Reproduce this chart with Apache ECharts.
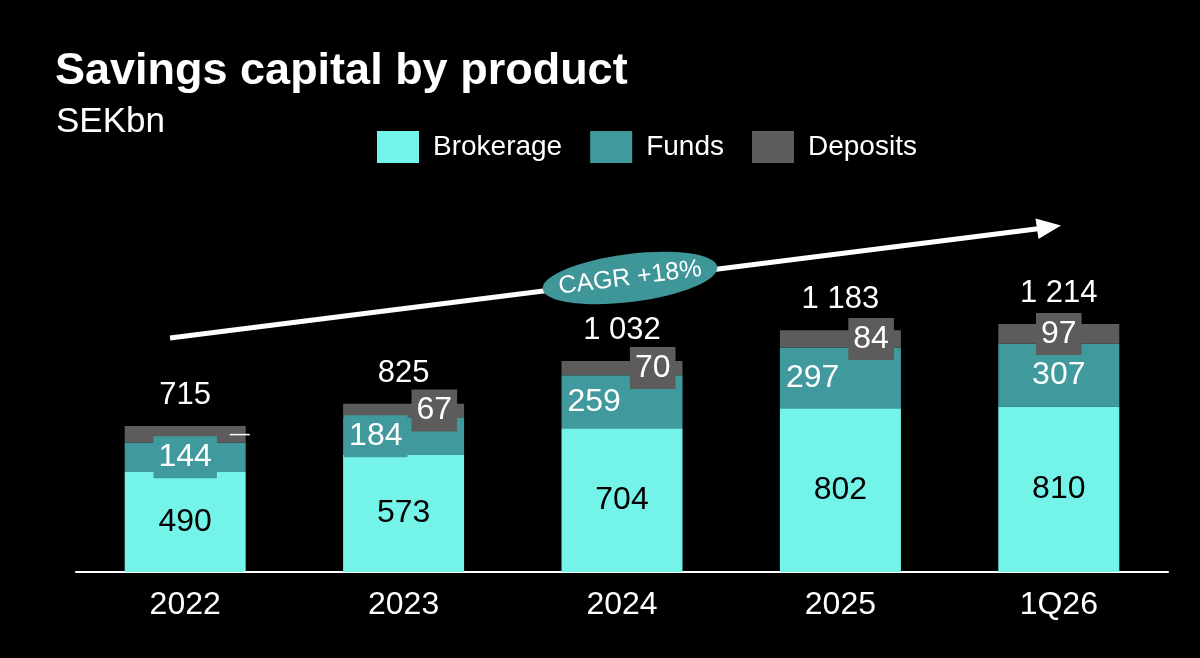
<!DOCTYPE html>
<html lang="en">
<head>
<meta charset="UTF-8">
<title>Savings capital by product</title>
<script src="https://cdn.jsdelivr.net/npm/echarts@6/dist/echarts.min.js"></script>
<style>
  html, body { margin: 0; padding: 0; background: #000; }
  #main { width: 1200px; height: 658px; }
</style>
</head>
<body>
<div id="main"></div>
<script>
// data (SEKbn)
var years = ['2022', '2023', '2024', '2025', '1Q26'];
var brokerage = [490, 573, 704, 802, 810];
var funds = [144, 184, 259, 297, 307];
var deposits = [81, 67, 70, 84, 97];
var totals = [715, 825, 1032, 1183, 1214];

// where each label sits in its segment
var fundsLabelPos = ['inside', 'insideLeft', 'insideLeft', 'insideLeft', 'inside'];
var depositsLabelPos = ['insideRight', 'insideRight', 'insideRight', 'insideRight', 'inside'];

var FONT = "'Liberation Sans', Arial, sans-serif";
var C_BROK = '#74f4e9', C_FUND = '#409a9d', C_DEP = '#5c5c5c';

function fmt(n) {
    return String(n).replace(/\B(?=(\d{3})+(?!\d))/g, ' ');
}

var myChart = echarts.init(document.getElementById('main'));

var fundsData = funds.map(function (v, i) {
    return {
        value: v,
        label: { position: fundsLabelPos[i], distance: 1 }
    };
});
var depositsData = deposits.map(function (v, i) {
    if (i === 0) {
        // 2022 shown only as a dash next to the bar
        return {
            value: v,
            label: { position: 'insideRight', offset: [14, 0], backgroundColor: 'transparent', formatter: '\u2014', fontSize: 20 }
        };
    }
    return {
        value: v,
        label: { position: depositsLabelPos[i], distance: 7 }
    };
});

var option = {
    backgroundColor: '#000',
    textStyle: { fontFamily: FONT },
    title: [
        { text: 'Savings capital by product', left: 50, top: 44,
          textStyle: { color: '#fff', fontSize: 45, fontWeight: 'bold', fontFamily: FONT } },
        { text: 'SEKbn', left: 51, top: 100,
          textStyle: { color: '#fff', fontSize: 35, fontWeight: 'normal', fontFamily: FONT } }
    ],
    legend: {
        data: ['Brokerage', 'Funds', 'Deposits'],
        left: 377,
        top: 131,
        padding: 0,
        itemWidth: 42,
        itemHeight: 32,
        itemGap: 28,
        icon: 'rect',
        textStyle: { color: '#fff', fontSize: 28, fontFamily: FONT, padding: [0, 0, 0, 9] }
    },
    grid: { left: 76, right: 32, top: 286, bottom: 86 },
    xAxis: {
        type: 'category',
        data: years,
        axisLine: { lineStyle: { color: '#fff', width: 2 } },
        axisTick: { show: false },
        axisLabel: { color: '#fff', fontSize: 32, margin: 17, fontFamily: FONT }
    },
    yAxis: {
        type: 'value',
        min: 0,
        max: 1400,
        show: false,
        splitLine: { show: false }
    },
    series: [
        {
            name: 'Brokerage',
            type: 'bar',
            stack: 'total',
            barWidth: 121,
            data: brokerage,
            itemStyle: { color: C_BROK },
            label: { show: true, position: 'inside', color: '#000', fontSize: 32, fontFamily: FONT }
        },
        {
            name: 'Funds',
            type: 'bar',
            stack: 'total',
            data: fundsData,
            itemStyle: { color: C_FUND },
            label: {
                show: true, color: '#fff', fontSize: 32, fontFamily: FONT,
                backgroundColor: C_FUND, padding: [5, 5]
            }
        },
        {
            name: 'Deposits',
            type: 'bar',
            stack: 'total',
            data: depositsData,
            itemStyle: { color: C_DEP },
            label: {
                show: true, color: '#fff', fontSize: 32, fontFamily: FONT,
                backgroundColor: C_DEP, padding: [5, 5]
            }
        },
        {
            name: 'Total',
            type: 'scatter',
            data: totals,
            symbolSize: 0,
            z: 5,
            itemStyle: { opacity: 1 },
            label: {
                show: true, position: 'top', distance: 15, opacity: 1,
                color: '#ffffff', fontSize: 31, fontFamily: FONT,
                formatter: function (p) { return fmt(p.value); }
            }
        }
    ],
    graphic: [
        // growth arrow
        { type: 'line', shape: { x1: 170, y1: 338, x2: 1040, y2: 228.5 },
          style: { stroke: '#fff', lineWidth: 5 }, z: 10 },
        { type: 'polygon', shape: { points: [[1061, 225.5], [1038.5, 239], [1035.5, 218.5]] },
          style: { fill: '#fff' }, z: 10 },
        {
            type: 'group', x: 630, y: 278, rotation: 0.126, z: 11,
            children: [
                { type: 'ellipse', shape: { cx: 0, cy: 0, rx: 88, ry: 24 },
                  style: { fill: '#3e9698' }, z: 11 },
                { type: 'text', x: 0, y: 0, z: 12,
                  style: { text: 'CAGR +18%', fill: '#fff', fontSize: 25, fontFamily: FONT,
                           textAlign: 'center', textVerticalAlign: 'middle' } }
            ]
        }
    ]
};

myChart.setOption(option);
</script>
</body>
</html>
